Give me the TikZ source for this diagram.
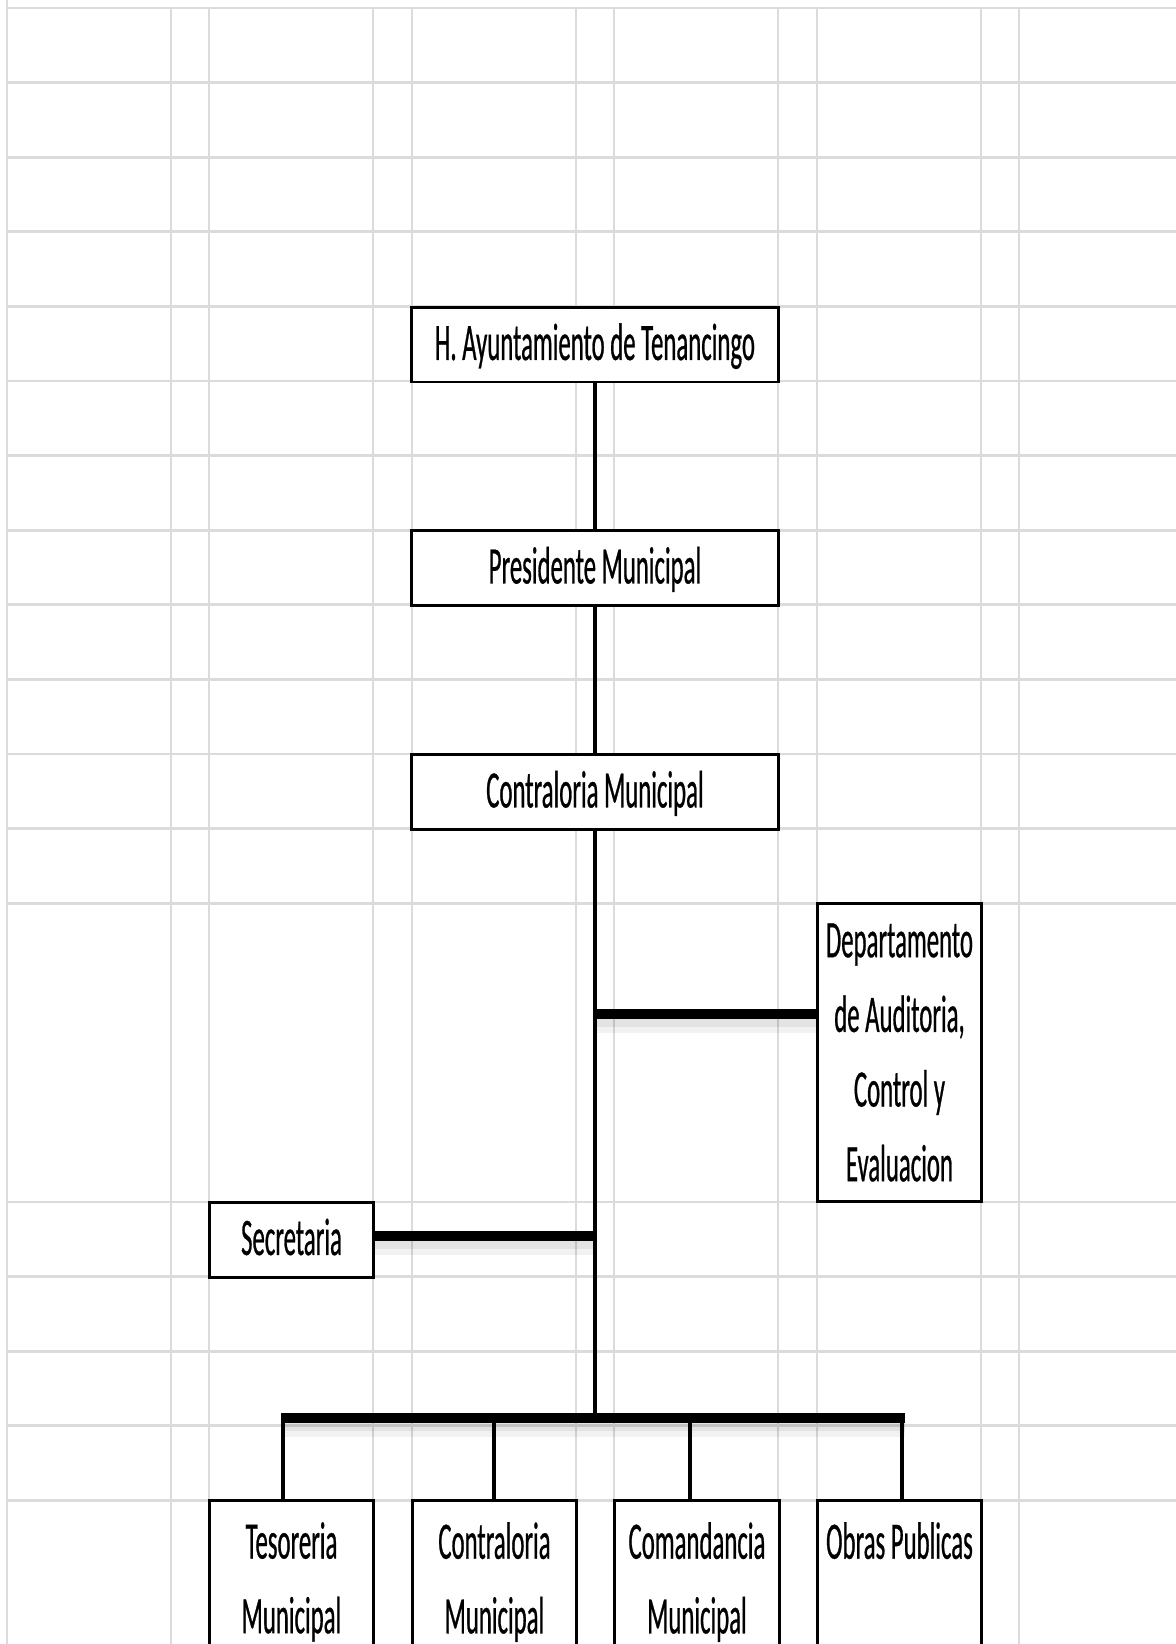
\documentclass[tikz,border=0pt]{standalone}
\usepackage{fontspec}
\setmainfont[FakeStretch=0.47, FakeBold=0.5]{Carlito}
\usetikzlibrary{positioning,calc}
\definecolor{gridGray}{RGB}{218,219,221}
\tikzstyle{gridH}=[draw=gridGray, line width=1.6pt]
\tikzstyle{gridV}=[draw=gridGray, line width=1.2pt]
\tikzstyle{unitBox}=[draw, fill=white, line width=1.7pt, inner sep=0pt, align=center, font=\fontsize{30}{42.5}\selectfont]
\tikzstyle{wideBox}=[unitBox, minimum width=7.34cm, minimum height=1.5cm, text height=25pt, text depth=7.4pt]
\tikzstyle{cellBox}=[unitBox, minimum width=3.3cm, minimum height=1.5cm, text height=25pt, text depth=7.4pt]
\tikzstyle{tallBox}=[unitBox, minimum width=3.3cm, minimum height=5.98cm]
\tikzstyle{baseBox}=[unitBox, minimum width=3.3cm, minimum height=3.28cm]
\tikzstyle{trunkLine}=[line width=2.5pt]
\tikzstyle{branchLine}=[line width=5.7pt]
\tikzstyle{busLine}=[line width=6.2pt]
\tikzstyle{dropLine}=[line width=2.3pt]
\tikzstyle{edgeShadow}=[draw=black, opacity=0.05, line width=12pt, transform canvas={yshift=-5pt}]
\tikzstyle{edgeShadowIn}=[draw=black, opacity=0.06, line width=8pt, transform canvas={yshift=-3.5pt}]

\begin{document}
\begin{tikzpicture}[x=0.02cm, y=-0.02cm]
      \clip (0,0) rectangle (1176,1644);
      \fill[white] (0,0) rectangle (1176,1644);
      %%%%%%%%%%%% Hoja (rejilla)
      \foreach \k in {0,...,12} \draw[gridH] (7,{8+74.6*\k}) -- (1176,{8+74.6*\k});
      \foreach \k in {0,...,4} \draw[gridH] (7,{1202+74.6*\k}) -- (1176,{1202+74.6*\k});
      \draw[gridV] (7,0) -- (7,1644);
      \foreach \k in {1,...,5} \draw[gridV] ({7+202.4*\k},8) -- ({7+202.4*\k},1644);
      \foreach \k in {0,...,4} \draw[gridV] ({171+202.4*\k},8) -- ({171+202.4*\k},1644);
      %%%%%%%%%%%% Organigrama
      \node (ayunt) [wideBox] at (595,344.5) {H. Ayuntamiento de Tenancingo};
      \node (pres) [wideBox] at (595,568) {Presidente Municipal};
      \node (contra) [wideBox] at (595,792) {Contraloria Municipal};
      \node (audit) [tallBox] at (899.5,1052.5) {Departamento\\de Auditoria,\\Control y\\Evaluacion};
      \node (secre) [cellBox] at (291.5,1239.5) {Secretaria};
      \node (tes) [baseBox] at (291.5,1582) {Tesoreria\\Municipal};
      \node (cmun) [baseBox] at (494.5,1582) {Contraloria\\Municipal};
      \node (coman) [baseBox] at (697,1582) {Comandancia\\Municipal};
      \node (obras) [baseBox] at (899.5,1582) {Obras Publicas\\\phantom{Municipal}};
      \coordinate (auditJ) at (595,1014);
      \coordinate (secreJ) at (595,1236);
      \coordinate (busJ) at (595,1418);
      \coordinate (busL) at (281,1418);
      \coordinate (busR) at (905,1418);
      \coordinate (d1) at (283,1418);
      \coordinate (d2) at (494,1418);
      \coordinate (d3) at (690,1418);
      \coordinate (d4) at (902,1418);
      \draw[edgeShadow] (auditJ) -- (auditJ -| audit.west);
      \draw[edgeShadowIn] (auditJ) -- (auditJ -| audit.west);
      \draw[edgeShadow] (secreJ) -- (secreJ -| secre.east);
      \draw[edgeShadowIn] (secreJ) -- (secreJ -| secre.east);
      \draw[edgeShadow] (busL) -- (busR);
      \draw[edgeShadowIn] (busL) -- (busR);
      \draw[trunkLine] (ayunt) -- (pres);
      \draw[trunkLine] (pres) -- (contra);
      \draw[trunkLine] (contra) -- (busJ);
      \draw[branchLine] (auditJ) -- (auditJ -| audit.west);
      \draw[branchLine] (secreJ) -- (secreJ -| secre.east);
      \draw[busLine] (busL) -- (busR);
      \draw[dropLine] (d1) -- (d1 |- tes.north);
      \draw[dropLine] (d2) -- (d2 |- cmun.north);
      \draw[dropLine] (d3) -- (d3 |- coman.north);
      \draw[dropLine] (d4) -- (d4 |- obras.north);
\end{tikzpicture}
\end{document}
